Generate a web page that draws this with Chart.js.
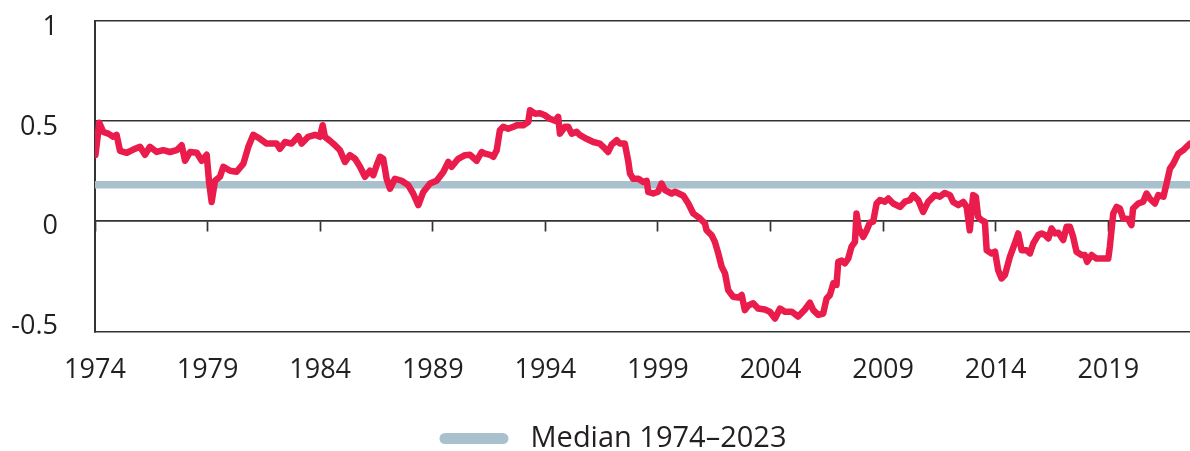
<!DOCTYPE html>
<html>
<head>
<meta charset="utf-8">
<script src="https://cdn.jsdelivr.net/npm/chart.js@4.4.0/dist/chart.umd.min.js"></script>
<style>
  html, body { margin: 0; padding: 0; background: #fff; }
  #wrap { width: 1190px; height: 451px; }
</style>
</head>
<body>
<div id="wrap"><canvas id="myChart"></canvas></div>
<script>
// year as decimal
const years = [
  1974.02, 1974.19, 1974.37, 1974.59, 1974.81, 1974.96, 1975.11, 1975.41, 1975.70, 1976.00,
  1976.22, 1976.44, 1976.74, 1977.03, 1977.33, 1977.63, 1977.85, 1978.00, 1978.22, 1978.52,
  1978.74, 1978.96, 1979.06, 1979.18, 1979.33, 1979.55, 1979.70, 1980.00, 1980.29, 1980.59,
  1980.81, 1981.03, 1981.33, 1981.62, 1982.07, 1982.21, 1982.44, 1982.73, 1983.03, 1983.18,
  1983.47, 1983.77, 1983.99, 1984.11, 1984.21, 1984.44, 1984.66, 1984.88, 1985.10, 1985.32,
  1985.55, 1985.77, 1985.99, 1986.21, 1986.36, 1986.51, 1986.66, 1986.80, 1986.95, 1987.10,
  1987.32, 1987.62, 1987.91, 1988.13, 1988.36, 1988.58, 1988.88, 1989.17, 1989.47, 1989.69,
  1989.84, 1990.13, 1990.43, 1990.65, 1990.95, 1991.17, 1991.32, 1991.54, 1991.69, 1991.84,
  1991.98, 1992.13, 1992.35, 1992.58, 1992.73, 1993.02, 1993.24, 1993.32, 1993.54, 1993.76,
  1993.98, 1994.20, 1994.43, 1994.57, 1994.65, 1994.87, 1995.02, 1995.17, 1995.39, 1995.54,
  1995.83, 1996.13, 1996.42, 1996.57, 1996.79, 1996.94, 1997.17, 1997.31, 1997.53, 1997.68,
  1997.76, 1997.90, 1998.13, 1998.35, 1998.50, 1998.57, 1998.79, 1999.01, 1999.16, 1999.31,
  1999.61, 1999.76, 2000.13, 2000.35, 2000.57, 2000.87, 2001.09, 2001.16, 2001.38, 2001.53,
  2001.68, 2001.83, 2001.98, 2002.12, 2002.34, 2002.57, 2002.72, 2002.86, 2003.01, 2003.23,
  2003.45, 2003.75, 2003.97, 2004.20, 2004.42, 2004.64, 2004.94, 2005.23, 2005.53, 2005.75,
  2005.90, 2006.12, 2006.34, 2006.49, 2006.64, 2006.79, 2006.93, 2007.01, 2007.16, 2007.30,
  2007.45, 2007.60, 2007.75, 2007.82, 2007.92, 2008.12, 2008.27, 2008.41, 2008.56, 2008.71,
  2008.86, 2009.08, 2009.23, 2009.45, 2009.75, 2009.97, 2010.19, 2010.34, 2010.56, 2010.78,
  2011.00, 2011.30, 2011.52, 2011.74, 2011.97, 2012.11, 2012.34, 2012.56, 2012.71, 2012.85,
  2013.00, 2013.12, 2013.22, 2013.37, 2013.52, 2013.60, 2013.82, 2013.97, 2014.11, 2014.26,
  2014.41, 2014.63, 2014.85, 2015.00, 2015.15, 2015.37, 2015.52, 2015.67, 2015.89, 2016.04,
  2016.19, 2016.34, 2016.48, 2016.63, 2016.78, 2017.00, 2017.15, 2017.30, 2017.44, 2017.59,
  2017.81, 2017.96, 2018.06, 2018.26, 2018.48, 2018.77, 2019.00, 2019.07, 2019.22, 2019.37,
  2019.52, 2019.66, 2019.88, 2020.03, 2020.10, 2020.33, 2020.55, 2020.70, 2020.85, 2021.07,
  2021.22, 2021.45, 2021.59, 2021.74, 2021.89, 2022.11, 2022.33, 2022.48, 2022.63
];

const values = [
  0.33, 0.49, 0.444, 0.436, 0.42, 0.43, 0.35, 0.34, 0.356, 0.37,
  0.33, 0.37, 0.344, 0.353, 0.344, 0.353, 0.378, 0.30, 0.344, 0.34,
  0.30, 0.33, 0.20, 0.094, 0.20, 0.22, 0.27, 0.25, 0.245, 0.286,
  0.37, 0.43, 0.41, 0.386, 0.386, 0.36, 0.394, 0.386, 0.423, 0.386,
  0.42, 0.43, 0.42, 0.478, 0.42, 0.40, 0.378, 0.353, 0.294, 0.328,
  0.31, 0.27, 0.22, 0.25, 0.228, 0.278, 0.32, 0.31, 0.21, 0.16,
  0.21, 0.20, 0.178, 0.136, 0.078, 0.144, 0.186, 0.20, 0.244, 0.294,
  0.27, 0.31, 0.328, 0.33, 0.30, 0.344, 0.336, 0.33, 0.32, 0.353,
  0.453, 0.47, 0.46, 0.47, 0.478, 0.478, 0.494, 0.553, 0.536, 0.538,
  0.528, 0.51, 0.50, 0.52, 0.436, 0.47, 0.47, 0.436, 0.445, 0.428,
  0.41, 0.394, 0.386, 0.37, 0.344, 0.38, 0.403, 0.386, 0.386, 0.30,
  0.236, 0.21, 0.21, 0.194, 0.20, 0.144, 0.136, 0.145, 0.186, 0.153,
  0.136, 0.145, 0.125, 0.086, 0.036, 0.011, -0.014, -0.048, -0.072, -0.106,
  -0.164, -0.23, -0.264, -0.348, -0.381, -0.385, -0.372, -0.448, -0.425, -0.414,
  -0.44, -0.445, -0.456, -0.49, -0.44, -0.456, -0.456, -0.48, -0.445, -0.411,
  -0.448, -0.472, -0.465, -0.39, -0.372, -0.314, -0.322, -0.206, -0.20, -0.214,
  -0.19, -0.13, -0.106, 0.036, -0.039, -0.081, -0.048, -0.01, -0.005, 0.086,
  0.103, 0.095, 0.111, 0.086, 0.069, 0.095, 0.103, 0.128, 0.103, 0.044,
  0.094, 0.128, 0.12, 0.139, 0.128, 0.094, 0.078, 0.094, 0.069, -0.048,
  0.128, 0.12, 0.019, 0.003, -0.006, -0.148, -0.164, -0.155, -0.248, -0.289,
  -0.272, -0.181, -0.114, -0.064, -0.148, -0.148, -0.164, -0.114, -0.072, -0.064,
  -0.072, -0.089, -0.039, -0.064, -0.06, -0.097, -0.031, -0.031, -0.081, -0.156,
  -0.172, -0.172, -0.206, -0.172, -0.19, -0.19, -0.19, -0.13, 0.036, 0.069,
  0.06, 0.011, 0.008, -0.022, 0.061, 0.086, 0.095, 0.136, 0.11, 0.086,
  0.128, 0.12, 0.186, 0.261, 0.286, 0.336, 0.353, 0.37, 0.386
];

const medianLabel = " Median 1974\u20132023";
const medianValue = 0.18;
const xRange = [1974, 2022.63];
const tickYears = [1974, 1979, 1984, 1989, 1994, 1999, 2004, 2009, 2014, 2019];
const yTicks = [-0.5, 0, 0.5, 1];

const red = "#e91c4b";
const blue = "#a8c1cd";
const ink = "#231f20";
const axisCol = "#333333";
const font = "'Open Sans'";

// plot frame, legend nudge
const plotBottom = 331.5;
const legendShift = { x: 18, y: 12 };

function setTicks(list) {
  return function (scale) {
    scale.ticks = list.map(v => ({ value: v }));
  };
}

const nudgeLegend = {
  id: "nudgeLegend",
  afterLayout(chart) {
    const lg = chart.legend;
    lg.left += legendShift.x;
    lg.right += legendShift.x;
    lg.top += legendShift.y;
    lg.bottom += legendShift.y;
  },
};

const data = {
  datasets: [
    {
      label: "series",
      data: years.map((x, i) => ({ x: x, y: values[i] })),
      borderColor: red,
      backgroundColor: red,
      borderWidth: 6.5,
      pointRadius: 0,
      tension: 0,
      borderJoinStyle: "round",
      borderCapStyle: "round",
    },
    {
      label: medianLabel,
      data: xRange.map(x => ({ x: x, y: medianValue })),
      borderColor: blue,
      backgroundColor: blue,
      borderWidth: 7.5,
      pointRadius: 0,
    },
  ],
};

const config = {
  type: "line",
  data: data,
  plugins: [nudgeLegend],
  options: {
    responsive: true,
    maintainAspectRatio: false,
    animation: false,
    devicePixelRatio: 1,
    layout: { padding: { left: 0, top: 21, right: 0, bottom: 0 } },
    plugins: {
      tooltip: { enabled: false },
      legend: {
        position: "bottom",
        labels: {
          filter: item => item.datasetIndex === 1,
          generateLabels: chart =>
            Chart.defaults.plugins.legend.labels.generateLabels(chart).map(it =>
              Object.assign(it, { lineWidth: 0, strokeStyle: "rgba(0,0,0,0)" })),
          boxWidth: 69,
          boxHeight: 11,
          useBorderRadius: true,
          borderRadius: 5.5,
          color: ink,
          font: { family: font, size: 29 },
          padding: 10,
        },
      },
    },
    scales: {
      x: {
        type: "linear",
        position: "bottom",
        min: xRange[0],
        max: xRange[1],
        afterBuildTicks: setTicks(tickYears),
        afterFit: s => { s.height = s.chart.height - plotBottom - s.chart.legend.height; },
        ticks: {
          callback: v => String(v),
          color: ink,
          font: { family: font, size: 27 },
          padding: 23,
          maxRotation: 0,
          autoSkip: false,
        },
        grid: { drawOnChartArea: false, drawTicks: false },
        border: { display: true, color: axisCol, width: 1.5 },
      },
      x2: {
        type: "linear",
        axis: "x",
        position: { y: 0 },
        min: xRange[0],
        max: xRange[1],
        afterBuildTicks: setTicks(tickYears),
        ticks: { display: false },
        grid: {
          drawOnChartArea: false,
          drawTicks: true,
          tickLength: 10,
          tickColor: axisCol,
          tickWidth: 1.7,
        },
        border: { display: true, color: axisCol, width: 1.5 },
      },
      y: {
        type: "linear",
        min: -0.555,
        max: 1,
        afterBuildTicks: setTicks(yTicks),
        afterFit: s => { s.width = 95; s.paddingTop = 0; s.paddingBottom = 0; },
        ticks: {
          callback: v => String(v),
          color: ink,
          font: { family: font, size: 27 },
          padding: 37,
          labelOffset: 6,
        },
        grid: {
          color: c => (c.tick && c.tick.value === -0.5 ? "rgba(0,0,0,0)" : axisCol),
          lineWidth: 1.5,
          drawTicks: false,
        },
        border: { display: true, color: axisCol, width: 2 },
      },
    },
  },
};

const myChart = new Chart(document.getElementById("myChart"), config);
</script>
</body>
</html>
